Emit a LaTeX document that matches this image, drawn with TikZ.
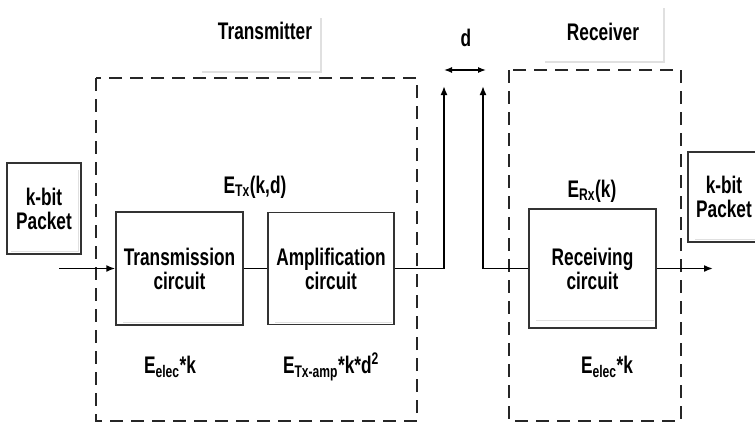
\documentclass[tikz,border=0pt]{standalone}
\usepackage{fontspec}
\setmainfont{Liberation Sans}[FakeStretch=0.72]
\usetikzlibrary{arrows.meta}
\begin{document}
\begin{tikzpicture}[x=1pt,y=-1pt,
  font=\fontsize{24}{24}\selectfont\bfseries,
  blk/.style={draw=black!80, line width=1.4pt, align=center, inner sep=0pt},
  dsh/.style={draw=black!85, line width=1.7pt, dash pattern=on 13pt off 8pt},
  conn/.style={draw=black, line width=1.7pt},
  tip/.style={-{Latex[length=9pt,width=7pt]}},
  shd/.style={draw=black!12, line width=1.4pt},
  lbl/.style={inner sep=0pt}]
\useasboundingbox (0,0) rectangle (755,423);
% faint label shadows
\draw[shd] (202,72) -- (321,72) -- (321,18);
\draw[shd] (545,62) -- (664,62) -- (664,8);
% dashed groups
\draw[dsh] (96,78) rectangle (417,421);
\draw[dsh] (509,70) rectangle (681,421);
% boxes
\node[blk, minimum width=127pt, minimum height=113pt] (tc) at (179.5,268.5) {Transmission\\circuit};
\node[blk, minimum width=126pt, minimum height=112pt] (ac) at (331,268.5) {Amplification\\circuit};
\node[blk, minimum width=127pt, minimum height=119pt] (rc) at (592.5,268.5) {Receiving\\circuit};
\node[blk, minimum width=74pt, minimum height=91pt] (pk1) at (44,208.5) {k-bit\\Packet};
\begin{scope}
\clip (0,0) rectangle (755,423);
\node[blk, minimum width=72pt, minimum height=90pt] (pk2) at (724,197) {k-bit\\Packet};
\draw[shd] (pk2.south west) ++(8,-3) -- ++(62,0);
\end{scope}
% inner shadows of boxes
\draw[shd] ([xshift=8pt,yshift=3pt]tc.south west) -- ([xshift=-3pt,yshift=3pt]tc.south east);
\draw[shd] ([xshift=8pt,yshift=3pt]ac.south west) -- ([xshift=-3pt,yshift=3pt]ac.south east);
\draw[shd] ([xshift=8pt,yshift=8pt]rc.south west) -- ([xshift=-3pt,yshift=8pt]rc.south east);
\draw[shd] ([xshift=5pt,yshift=3pt]pk1.south west) -- ([xshift=-3pt,yshift=3pt]pk1.south east) -- ([xshift=-3pt,yshift=-8pt]pk1.north east);
% connectors
\coordinate (in) at (59,268.5);
\coordinate (up1) at (444,86);
\coordinate (up2) at (483,86);
\coordinate (out) at (713,268.5);
\coordinate (d1) at (444,70);
\coordinate (d2) at (486,70);
\draw[conn,tip] (in) -- (tc.west);
\draw[conn] (tc.east) -- (ac.west);
\draw[conn,tip] (ac.east) -| (up1);
\draw[conn,tip] (rc.west) -| (up2);
\draw[conn,tip] (rc.east) -- (out);
\draw[conn,line width=1.3pt,{Latex[length=8pt,width=6pt]}-{Latex[length=8pt,width=6pt]}] (d1) -- (d2);
% labels
\node[lbl] (ltx) at (265,31) {Transmitter};
\node[lbl] (lrx) at (603,32) {Receiver};
\node[lbl] (ld) at (466,38) {d};
\node[lbl] (etx) at (255,187) {E\textsubscript{Tx}(k,d)};
\node[lbl] (erx) at (592,191) {E\textsubscript{Rx}(k)};
\node[lbl] (ee1) at (170,367) {E\textsubscript{elec}*k};
\node[lbl] (eamp) at (331,367) {E\textsubscript{Tx-amp}*k*d\textsuperscript{2}};
\node[lbl] (ee2) at (607,367) {E\textsubscript{elec}*k};
\end{tikzpicture}
\end{document}
